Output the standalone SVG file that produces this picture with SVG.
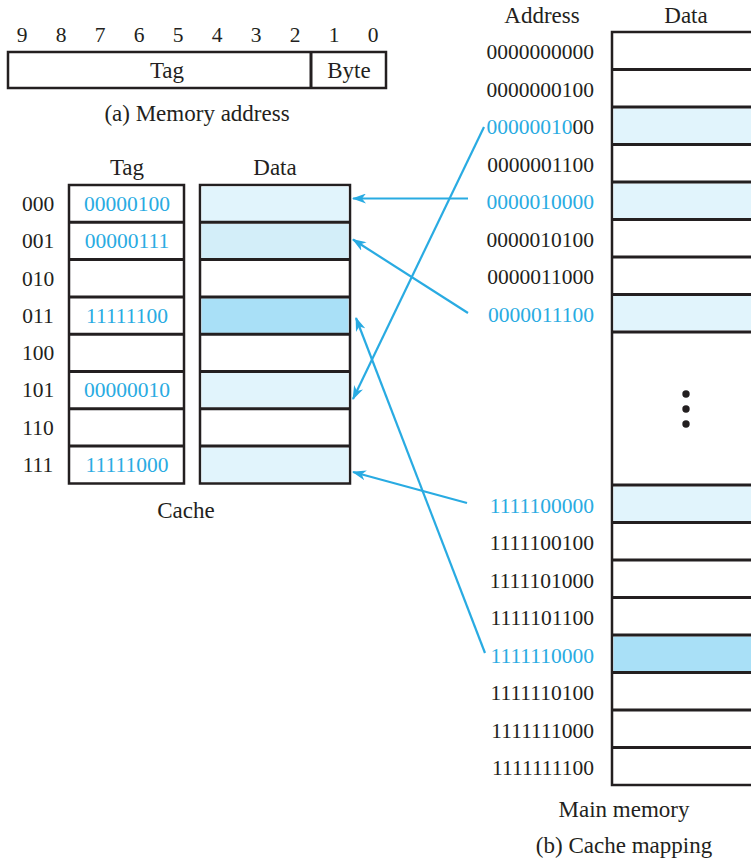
<svg xmlns="http://www.w3.org/2000/svg" width="751" height="861" viewBox="0 0 751 861">
<defs>
<marker id="ah" markerWidth="14" markerHeight="10" refX="13" refY="5" orient="auto" markerUnits="userSpaceOnUse">
<path d="M0,0 L14,5 L0,10 L4,5 z" fill="#29abe2"/>
</marker>
<style>
text{font-family:"Liberation Serif","Times New Roman",serif;font-size:21.5px;fill:#231f20}
.w{font-size:23px}
.b{fill:#29abe2}
.c{text-anchor:middle}
.e{text-anchor:end}
.box{fill:#fff;stroke:#231f20;stroke-width:2.5}
.l1{fill:#e1f4fc}
.l2{fill:#d3eef9}
.l3{fill:#a9e0f7}
.row{stroke:#231f20;stroke-width:3}
.arr{stroke:#29abe2;stroke-width:2.2;fill:none;marker-end:url(#ah)}
</style>
</defs>
<rect width="751" height="861" fill="#fff"/>

<g id="memory-address">
<g class="c">
<text x="22" y="42">9</text><text x="61" y="42">8</text><text x="100" y="42">7</text><text x="139" y="42">6</text><text x="178" y="42">5</text><text x="217" y="42">4</text><text x="256" y="42">3</text><text x="295" y="42">2</text><text x="334" y="42">1</text><text x="373" y="42">0</text>
</g>
<rect class="box" x="8" y="52" width="378" height="36"/>
<line class="row" x1="311" y1="52" x2="311" y2="88" stroke-width="2.5"/>
<text class="c w" x="167" y="78">Tag</text>
<text class="c w" x="349" y="78">Byte</text>
<text class="c w" x="197" y="121">(a) Memory address</text>
</g>

<g id="cache">
<text class="c w" x="127" y="175">Tag</text>
<text class="c w" x="275" y="175">Data</text>
<rect class="box" x="69" y="185" width="115" height="298.5"/>
<rect class="box" x="200" y="185" width="150" height="298.5"/>
<rect class="l1" x="201.5" y="186.5" width="147" height="34.5"/>
<rect class="l2" x="201.5" y="223.8" width="147" height="34.5"/>
<rect class="l3" x="201.5" y="298.4" width="147" height="34.5"/>
<rect class="l1" x="201.5" y="372.9" width="147" height="34.5"/>
<rect class="l1" x="201.5" y="447.5" width="147" height="34.5"/>
<g class="row">
<line x1="69" y1="222.3" x2="184" y2="222.3"/><line x1="200" y1="222.3" x2="350" y2="222.3"/>
<line x1="69" y1="259.6" x2="184" y2="259.6"/><line x1="200" y1="259.6" x2="350" y2="259.6"/>
<line x1="69" y1="296.9" x2="184" y2="296.9"/><line x1="200" y1="296.9" x2="350" y2="296.9"/>
<line x1="69" y1="334.2" x2="184" y2="334.2"/><line x1="200" y1="334.2" x2="350" y2="334.2"/>
<line x1="69" y1="371.5" x2="184" y2="371.5"/><line x1="200" y1="371.5" x2="350" y2="371.5"/>
<line x1="69" y1="408.8" x2="184" y2="408.8"/><line x1="200" y1="408.8" x2="350" y2="408.8"/>
<line x1="69" y1="446.1" x2="184" y2="446.1"/><line x1="200" y1="446.1" x2="350" y2="446.1"/>
</g>
<g class="c">
<text x="38" y="211">000</text>
<text x="38" y="248">001</text>
<text x="38" y="286">010</text>
<text x="38" y="323">011</text>
<text x="38" y="360">100</text>
<text x="38" y="397">101</text>
<text x="38" y="435">110</text>
<text x="38" y="472">111</text>
<text class="b" x="127" y="211">00000100</text>
<text class="b" x="127" y="248">00000111</text>
<text class="b" x="127" y="323">11111100</text>
<text class="b" x="127" y="397">00000010</text>
<text class="b" x="127" y="472">11111000</text>
</g>
<text class="c w" x="186" y="518">Cache</text>
</g>

<g id="main-memory">
<text class="c w" x="542" y="23">Address</text>
<text class="c w" x="686" y="23">Data</text>
<rect class="box" x="612" y="32" width="200" height="753"/>
<rect class="l1" x="613.5" y="108.5" width="140" height="34.5"/>
<rect class="l1" x="613.5" y="183.5" width="140" height="34.5"/>
<rect class="l1" x="613.5" y="296" width="140" height="34.5"/>
<rect class="l1" x="613.5" y="486.5" width="140" height="34.5"/>
<rect class="l3" x="613.5" y="636.5" width="140" height="34.5"/>
<g class="row">
<line x1="612" y1="69.5" x2="751" y2="69.5"/>
<line x1="612" y1="107" x2="751" y2="107"/>
<line x1="612" y1="144.5" x2="751" y2="144.5"/>
<line x1="612" y1="182" x2="751" y2="182"/>
<line x1="612" y1="219.5" x2="751" y2="219.5"/>
<line x1="612" y1="257" x2="751" y2="257"/>
<line x1="612" y1="294.5" x2="751" y2="294.5"/>
<line x1="612" y1="332" x2="751" y2="332"/>
<line x1="612" y1="485" x2="751" y2="485"/>
<line x1="612" y1="522.5" x2="751" y2="522.5"/>
<line x1="612" y1="560" x2="751" y2="560"/>
<line x1="612" y1="597.5" x2="751" y2="597.5"/>
<line x1="612" y1="635" x2="751" y2="635"/>
<line x1="612" y1="672.5" x2="751" y2="672.5"/>
<line x1="612" y1="710" x2="751" y2="710"/>
<line x1="612" y1="747.5" x2="751" y2="747.5"/>
</g>
<g class="e">
<text x="594" y="59">0000000000</text>
<text x="594" y="96.5">0000000100</text>
<text x="594" y="134"><tspan class="b">00000010</tspan>00</text>
<text x="594" y="171.5">0000001100</text>
<text class="b" x="594" y="209">0000010000</text>
<text x="594" y="246.5">0000010100</text>
<text x="594" y="284">0000011000</text>
<text class="b" x="594" y="321.5">0000011100</text>
<text class="b" x="594" y="512.5">1111100000</text>
<text x="594" y="550">1111100100</text>
<text x="594" y="587.5">1111101000</text>
<text x="594" y="625">1111101100</text>
<text class="b" x="594" y="662.5">1111110000</text>
<text x="594" y="700">1111110100</text>
<text x="594" y="737.5">1111111000</text>
<text x="594" y="775">1111111100</text>
</g>
<circle cx="686" cy="394" r="3.7" fill="#231f20"/>
<circle cx="686" cy="409" r="3.7" fill="#231f20"/>
<circle cx="686" cy="424" r="3.7" fill="#231f20"/>
<text class="c w" x="624" y="817">Main memory</text>
<text class="c w" x="624" y="853">(b) Cache mapping</text>
</g>

<g id="connectors">
<line class="arr" x1="468" y1="198.5" x2="353" y2="198.5"/>
<line class="arr" x1="468" y1="313" x2="353" y2="239.5"/>
<line class="arr" x1="484" y1="127" x2="353" y2="399"/>
<line class="arr" x1="467" y1="503" x2="353" y2="472"/>
<line class="arr" x1="485" y1="653" x2="356" y2="318"/>
</g>
</svg>
